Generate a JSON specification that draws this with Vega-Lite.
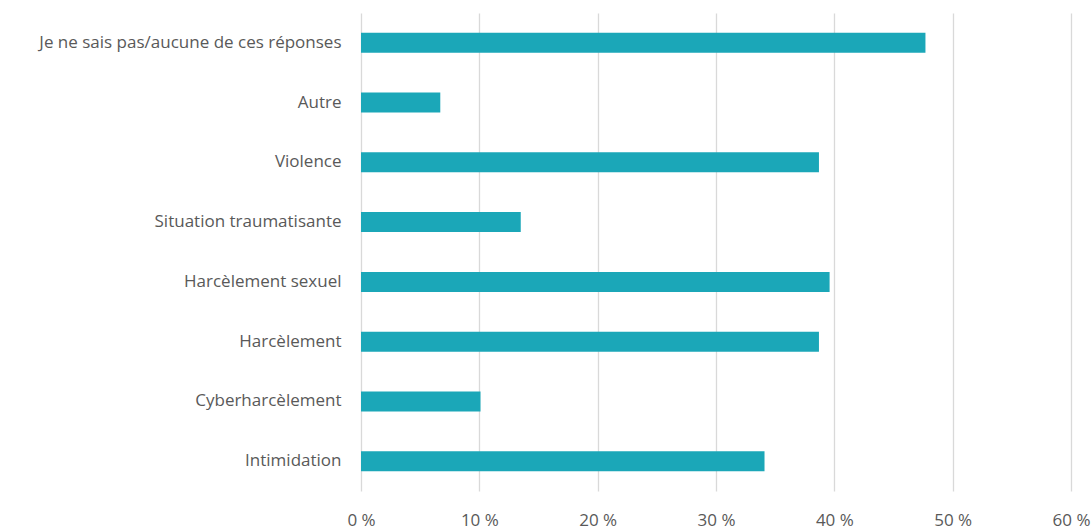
{
  "$schema": "https://vega.github.io/schema/vega-lite/v6.json",
  "width": 710,
  "height": 478,
  "autosize": {"type": "none"},
  "padding": {"left": 361, "top": 13, "right": 20, "bottom": 38},
  "background": "white",
  "config": {"view": {"stroke": null}, "font": "Open Sans"},
  "data": {"values": [
    {"cat": "Je ne sais pas/aucune de ces réponses", "v": 47.7},
    {"cat": "Autre", "v": 6.7},
    {"cat": "Violence", "v": 38.7},
    {"cat": "Situation traumatisante", "v": 13.5},
    {"cat": "Harcèlement sexuel", "v": 39.6},
    {"cat": "Harcèlement", "v": 38.7},
    {"cat": "Cyberharcèlement", "v": 10.1},
    {"cat": "Intimidation", "v": 34.1}
  ]},
  "mark": {"type": "bar", "color": "#1BA7B8"},
  "encoding": {
    "y": {"field": "cat", "type": "nominal", "sort": null,
      "scale": {"paddingInner": 0.665, "paddingOuter": 0.33},
      "axis": {"title": null, "domain": false, "ticks": false, "labelPadding": 20, "labelFontSize": 17, "labelColor": "#595959", "labelFont": "Open Sans", "labelLimit": 400}},
    "x": {"field": "v", "type": "quantitative",
      "scale": {"domain": [0, 60], "nice": false},
      "axis": {"title": null, "values": [0, 10, 20, 30, 40, 50, 60], "labelExpr": "datum.value + ' %'", "labelFlush": false, "labelBaseline": "alphabetic", "domain": false, "ticks": false, "grid": true, "gridColor": "#D9D9D9", "gridWidth": 1.3, "labelPadding": 34, "labelFontSize": 17, "labelColor": "#595959", "labelFont": "Open Sans"}}
  }
}
